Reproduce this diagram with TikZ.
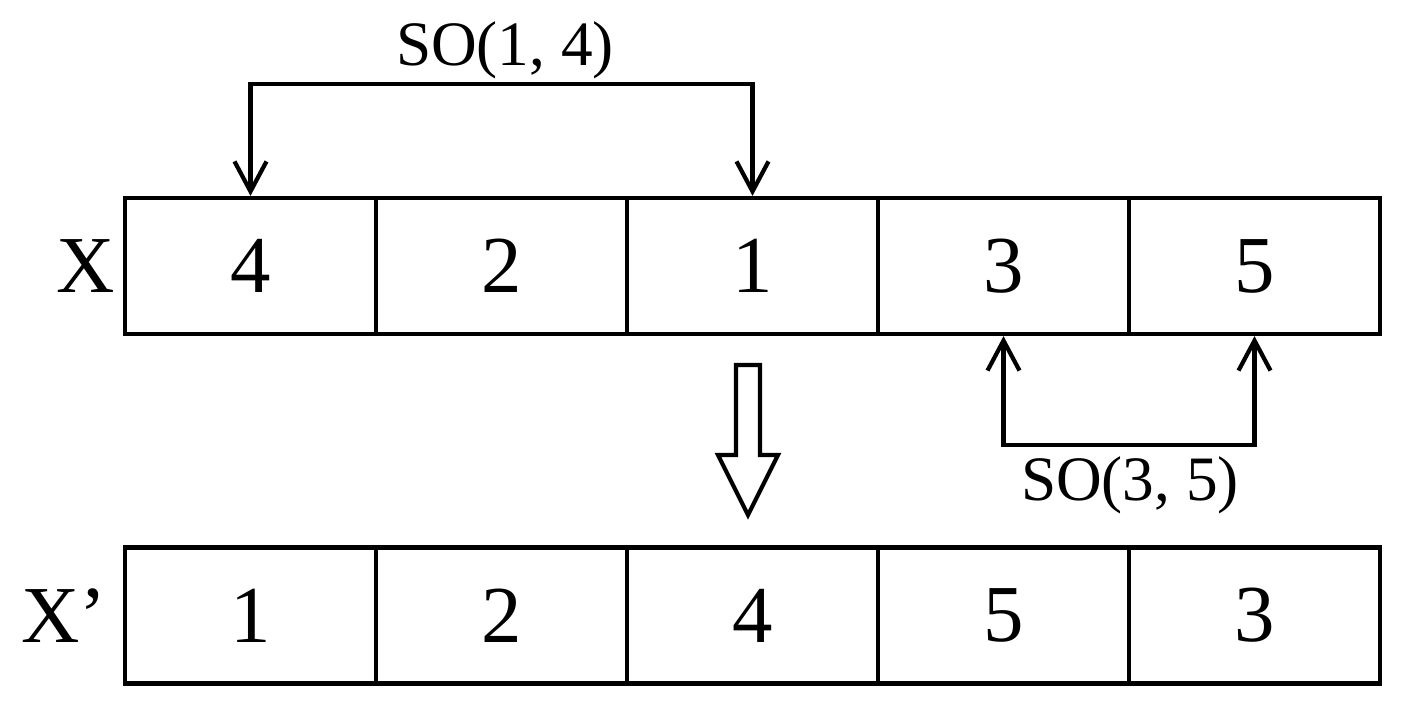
\documentclass[tikz,border=0pt]{standalone}
\usepackage{fontspec}
\setmainfont{Liberation Serif}
\usetikzlibrary{arrows.meta, positioning}

\begin{document}
\begin{tikzpicture}[node distance=2.51cm, on grid,
        cell/.style={draw, line width=1.2pt, minimum width=2.51cm, minimum height=1.36cm, inner sep=0pt, font=\fontsize{23}{27}\selectfont},
        rowlabel/.style={font=\fontsize{23}{27}\selectfont},
        soarrow/.style={{Straight Barb[length=3mm, width=3.2mm]}-{Straight Barb[length=3mm, width=3.2mm]}, line width=1.2pt, line join=miter},
        solabel/.style={font=\fontsize{18}{22}\selectfont}]
                \useasboundingbox (0,0) rectangle (14.06,7.13);
                % row X
                \node[cell] (x1) at (2.505,4.47) {4};
                \node[cell] (x2) [right=of x1] {2};
                \node[cell] (x3) [right=of x2] {1};
                \node[cell] (x4) [right=of x3] {3};
                \node[cell] (x5) [right=of x4] {5};
                \node[rowlabel] (xlab) at (0.86,4.47) {X};
                % row X'
                \node[cell] (y1) at (2.505,0.975) {1};
                \node[cell] (y2) [right=of y1] {2};
                \node[cell] (y3) [right=of y2] {4};
                \node[cell] (y4) [right=of y3] {5};
                \node[rowlabel] (ylab) at (0.64,0.975) {X’};
                \node[cell] (y5) [right=of y4] {3};
                % SO(1,4)
                \coordinate (t1) at ([yshift=1.12cm]x1.north);
                \coordinate (t3) at ([yshift=1.12cm]x3.north);
                \draw[soarrow] (x1.north) -- (t1) -- (t3) -- (x3.north);
                \node[solabel] (so14) at (5.05,6.63) {SO(1, 4)};
                % SO(3,5)
                \coordinate (b4) at ([yshift=-1.09cm]x4.south);
                \coordinate (b5) at ([yshift=-1.09cm]x5.south);
                \draw[soarrow] (x4.south) -- (b4) -- (b5) -- (x5.south);
                \node[solabel] (so35) at (11.3,2.28) {SO(3, 5)};
                % hollow arrow
                \draw[line width=1.2pt, line join=miter]
                (7.36,3.48) -- (7.60,3.48) -- (7.60,2.58) -- (7.78,2.58) -- (7.48,1.98)
                -- (7.18,2.58) -- (7.36,2.58) -- cycle;
\end{tikzpicture}
\end{document}
